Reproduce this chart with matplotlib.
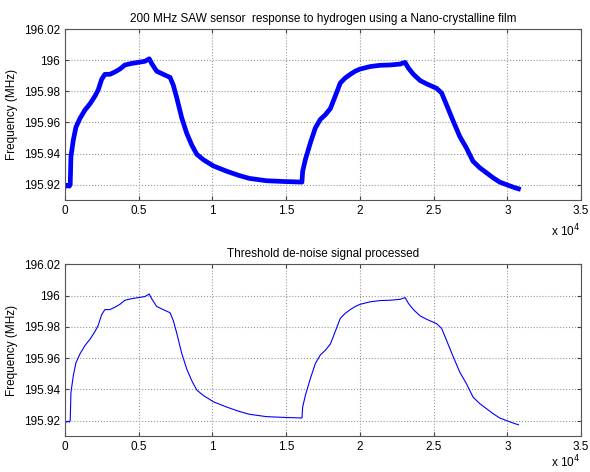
import numpy as np
import matplotlib
matplotlib.use("Agg")
import matplotlib.pyplot as plt
from matplotlib.ticker import FuncFormatter

plt.rcParams['font.family'] = ['Liberation Sans', 'DejaVu Sans']

# sample index (x 10^4) and frequency (MHz)
t = [0.0, 0.01, 0.02, 0.03, 0.036, 0.041, 0.057, 0.075, 0.102, 0.136, 0.170,
     0.204, 0.226, 0.249, 0.271, 0.305, 0.339, 0.373, 0.407, 0.452, 0.498,
     0.543, 0.572, 0.588, 0.622, 0.667, 0.713, 0.735, 0.758, 0.792, 0.826,
     0.860, 0.894, 0.939, 1.007, 1.097, 1.176, 1.25, 1.365, 1.48, 1.55,
     1.607, 1.612, 1.63, 1.664, 1.698, 1.732, 1.766, 1.80, 1.833, 1.867,
     1.90, 1.935, 1.968, 2.002, 2.07, 2.137, 2.205, 2.273, 2.306, 2.329,
     2.363, 2.408, 2.453, 2.52, 2.554, 2.588, 2.632, 2.677, 2.722, 2.767,
     2.813, 2.858, 2.903, 2.948, 2.993, 3.05, 3.075]
freq = [195.9195, 195.919, 195.9195, 195.919, 195.920, 195.938, 195.9487,
        195.957, 195.9626, 195.968, 195.972, 195.977, 195.981, 195.9877,
        195.991, 195.991, 195.9925, 195.9944, 195.997, 195.998, 195.9987,
        195.9994, 196.001, 195.998, 195.993, 195.991, 195.989, 195.984,
        195.976, 195.963, 195.953, 195.9455, 195.9395, 195.936, 195.932,
        195.9286, 195.926, 195.924, 195.9225, 195.922, 195.9218, 195.9216,
        195.9286, 195.936, 195.9468, 195.9565, 195.962, 195.965, 195.969,
        195.977, 195.9854, 195.9886, 195.991, 195.993, 195.9944, 195.996,
        195.9968, 195.997, 195.9976, 195.9987, 195.995, 195.991, 195.987,
        195.9848, 195.982, 195.979, 195.9712, 195.961, 195.951, 195.9436,
        195.935, 195.9308, 195.9276, 195.9244, 195.9216, 195.920, 195.918,
        195.9173]

x = np.array(t) * 1e4
y = np.array(freq)

titles = ["200 MHz SAW sensor  response to hydrogen using a Nano-crystalline film",
          "Threshold de-noise signal processed"]

fig = plt.figure(figsize=(5.9, 4.72), dpi=100)
ax1 = fig.add_axes([0.110, 0.576, 0.875, 0.362])
ax2 = fig.add_axes([0.110, 0.076, 0.875, 0.364])

for ax, title, lw, ytxt in [(ax1, titles[0], 3.4, 0.510),
                            (ax2, titles[1], 0.8, 0.022)]:
    ax.plot(x, y, color='#0000ff', lw=lw)
    ax.set_xlim(0, 35000)
    ax.set_ylim(195.91, 196.02)
    ax.set_xticks(np.arange(0, 35001, 5000))
    ax.set_yticks([195.92, 195.94, 195.96, 195.98, 196.0, 196.02])
    ax.xaxis.set_major_formatter(FuncFormatter(lambda v, p: f"{v / 1e4:g}"))
    ax.yaxis.set_major_formatter(FuncFormatter(lambda v, p: f"{round(v, 2):g}"))
    ax.grid(True, linestyle=':', color='#999999', lw=0.8)
    ax.tick_params(direction='in', top=True, right=True, labelsize=8.5,
                   length=3, color='#444444')
    for s in ax.spines.values():
        s.set_color('#555555')
        s.set_linewidth(0.8)
    ax.set_ylabel("Frequency (MHz)", fontsize=8.5)
    ax.set_title(title, fontsize=8.5, pad=5)
    fig.text(0.983, ytxt, "x 10$^4$", ha='right', va='center', fontsize=8.5)

fig.savefig("out.png", dpi=100)
